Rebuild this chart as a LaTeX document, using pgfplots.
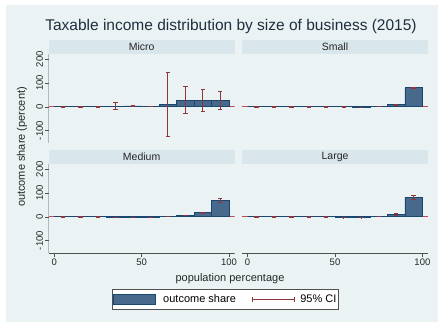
\documentclass[border=0pt]{standalone}
\usepackage{pgfplots}
\pgfplotsset{compat=1.18}
\usepackage{pgfplotstable}
\usepackage{fontspec}
\setmainfont{Liberation Sans}

\definecolor{bgc}{HTML}{EAF2F3}
\definecolor{stripc}{HTML}{D9E6EB}
\definecolor{gridc}{HTML}{EAF2F3}
\definecolor{barfill}{HTML}{46698C}
\definecolor{barline}{HTML}{1A476F}
\definecolor{cic}{HTML}{90353B}
\definecolor{zeroc}{HTML}{C8465A}
\definecolor{axc}{HTML}{505050}
\definecolor{titlec}{HTML}{1F2F3F}

% decile midpoint, outcome share (percent), lower and upper 95% bounds
\pgfplotstableread{
x  share  lo    hi
5   0    -0.8   0.8
15  0    -0.8   0.8
25  0    -0.8   0.8
35  1    -11    17
45  4     2     6
55  3     2     4
65  10   -124   147
75  27   -28    85
85  27   -18    72
95  27   -11    65
}\micro

\pgfplotstableread{
x  share  lo    hi
5   0    -0.8   0.8
15  0    -0.8   0.8
25  0    -0.8   0.8
35  0    -0.8   0.8
45  0    -0.8   0.8
55  0    -0.8   0.8
65  -2   -3    -1
75  2     1     3
85  9     7     11
95  80    77    83
}\small

\pgfplotstableread{
x  share  lo    hi
5   0    -0.8   0.8
15  0    -0.8   0.8
25  0    -0.8   0.8
35  -1   -1.8  -0.2
45  -1   -1.8  -0.2
55  -1   -1.8  -0.2
65  3     2     4
75  7     6     8
85  17    15    19
95  70    62    78
}\medium

\pgfplotstableread{
x  share  lo    hi
5   0    -0.8   0.8
15  0    -0.8   0.8
25  0    -0.8   0.8
35  0    -0.8   0.8
45  0    -0.8   0.8
55  -3   -4    -2
65  -3   -4    -2
75  2     1     3
85  10    7     13
95  82    74    91
}\large

\pgfplotsset{
  panel/.style={
    scale only axis, width=186pt, height=89pt,
    xmin=-3.2, xmax=103.2, ymin=-152, ymax=222,
    axis line style={draw=none},
    tick pos=left, tick align=outside,
    major tick length=4pt,
    xtick={0,50,100}, ytick={-100,0,100,200},
    ymajorgrids, grid style={gridc, line width=0.9pt},
    tick style={axc, line width=0.6pt},
    ticklabel style={font=\fontsize{9.5}{11}\selectfont, text=black!85},
    /pgf/number format/assume math mode=true,
    yticklabel style={rotate=90, anchor=south, inner sep=1.5pt},
    xticklabel style={inner sep=1.5pt},
  },
  noxticks/.style={xtick style={draw=none}, xticklabels={}},
  noyticks/.style={ytick style={draw=none}, yticklabels={}},
  bars/.style={ybar, bar width=10, bar shift=0pt, fill=barfill, draw=barline, line width=0.7pt,
    legend image code/.code={%
      \path[draw=none, fill=none] (-1pt,-5pt) rectangle (48pt,5pt);
      \draw[fill=barfill, draw=barline, line width=0.7pt] (0pt,-5pt) rectangle (42pt,5pt);}},
  cibars/.style={draw=none, mark=none,
    legend image code/.code={%
      \path[draw=none, fill=none] (0pt,-2pt) rectangle (46pt,2pt);
      \draw[cic, line width=0.7pt] (0pt,0pt) -- (42pt,0pt);
      \draw[cic, line width=0.7pt] (0pt,-2.2pt) -- (0pt,2.2pt);
      \draw[cic, line width=0.7pt] (42pt,-2.2pt) -- (42pt,2.2pt);},
    error bars/.cd, y dir=both, y explicit,
    error bar style={draw=cic, line width=0.7pt},
    error mark options={draw=cic, rotate=90, mark size=2.2pt, line width=0.7pt}},
  zeroline/.style={zeroc, line width=0.7pt, forget plot},
}

\newcommand{\panelplots}[1]{%
  \addplot[zeroline] coordinates {(-3.2,0) (103.2,0)};
  \addplot[bars] table[x=x, y=share] {#1};
  \addplot[cibars] table[x=x, y=share,
      y error plus expr=\thisrow{hi}-\thisrow{share},
      y error minus expr=\thisrow{share}-\thisrow{lo}] {#1};
}

\begin{document}
\begin{tikzpicture}[x=1pt, y=1pt]
\fill[white] (0,0) rectangle (438,322);
\fill[bgc] (6,0) rectangle (438,317);

% Micro
\begin{axis}[panel, noxticks, at={(48.6pt,179pt)}, anchor=south west]
  \panelplots{\micro}
  \draw[axc, line width=0.6pt] (rel axis cs:0,0) -- (rel axis cs:0,1);
\end{axis}

% Small
\begin{axis}[panel, noxticks, noyticks, at={(242pt,179pt)}, anchor=south west]
  \panelplots{\small}
\end{axis}

% Medium
\begin{axis}[panel, at={(48.6pt,69pt)}, anchor=south west,
  legend columns=2,
  legend style={at={(0.950,-0.522)}, anchor=center, draw=axc, line width=0.6pt,
    fill=white, inner xsep=0pt, inner ysep=3.5pt,
    font=\fontsize{11}{13}\selectfont,
    /tikz/every even column/.append style={column sep=14pt}},
  legend cell align=left]
  \panelplots{\medium}
  \addlegendentry{outcome share}
  \addlegendentry{95\% CI}
  \draw[axc, line width=0.6pt] (rel axis cs:0,0) -- (rel axis cs:0,1);
  \draw[axc, line width=0.6pt] (rel axis cs:0,0) -- (rel axis cs:1,0);
\end{axis}

% Large
\begin{axis}[panel, noyticks, at={(242pt,69pt)}, anchor=south west]
  \panelplots{\large}
  \draw[axc, line width=0.6pt] (rel axis cs:0,0) -- (rel axis cs:1,0);
\end{axis}

% panel headers
\begin{scope}[every node/.style={font=\fontsize{10.5}{12}\selectfont, text=black!85}]
  \fill[stripc] (48.6,268) rectangle (234.6,282);
  \node at (141.6,275) {Micro};
  \fill[stripc] (242,268) rectangle (428,282);
  \node at (335,275) {Small};
  \fill[stripc] (48.6,158) rectangle (234.6,172);
  \node at (141.6,165) {Medium};
  \fill[stripc] (242,158) rectangle (428,172);
  \node at (335,165) {Large};
\end{scope}

% titles
\node[font=\fontsize{15.5}{18}\selectfont, text=titlec] at (231,296)
  {Taxable income distribution by size of business (2015)};
\node[font=\fontsize{11}{13}\selectfont, text=black!85, rotate=90] at (22,175)
  {outcome share (percent)};
\node[font=\fontsize{11}{13}\selectfont, text=black!85] at (230,43)
  {population percentage};
\end{tikzpicture}
\end{document}
